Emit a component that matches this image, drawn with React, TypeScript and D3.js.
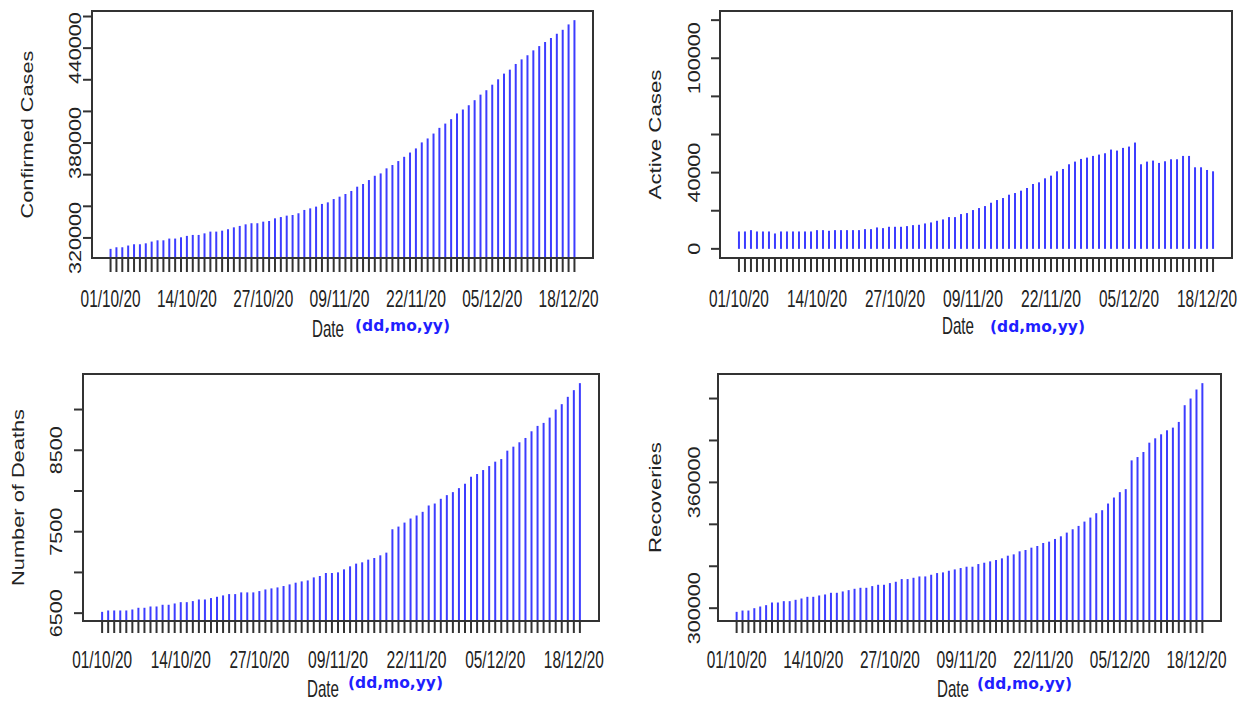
import React from 'react';
import * as d3 from 'd3';

// daily dates, 01/10/20 .. 19/12/20
const days = d3.timeDay.range(new Date(2020, 9, 1), new Date(2020, 11, 20));
const dateTickLabels = ['01/10/20', '14/10/20', '27/10/20', '09/11/20', '22/11/20', '05/12/20', '18/12/20'];

const confirmed = [
  313100, 314100, 314100, 315200, 316000, 316000, 316600, 317700, 318500, 318500,
  319600, 319600, 320400, 321300, 321900, 321900, 322900, 324000, 324000, 324600,
  325500, 326700, 327600, 328600, 329300, 329300, 330300, 330700, 332400, 333200,
  334100, 334500, 335600, 337700, 338700, 339800, 341500, 342500, 344600, 346100,
  347800, 349700, 352400, 354100, 356600, 359300, 360800, 364000, 366100, 368600,
  371300, 374000, 376600, 380400, 382900, 386000, 389600, 392300, 395100, 398700,
  401200, 403900, 407100, 410600, 413400, 416900, 420300, 423900, 426400, 430000,
  432900, 435500, 438600, 441300, 443900, 446400, 449100, 451600, 455000, 457700,
];

const active = [
  9120, 9120, 9820, 9120, 9120, 9120, 8070, 9120, 9120, 9120,
  9120, 9120, 9120, 9820, 9820, 9470, 9820, 9820, 9820, 9820,
  9820, 10350, 10350, 11230, 10870, 11580, 11580, 11580, 11930, 12450,
  12630, 13330, 13860, 14730, 15440, 16660, 16660, 18240, 18770, 20350,
  21400, 22450, 24200, 25610, 26660, 28410, 29290, 30520, 31920, 34030,
  34900, 37010, 38410, 40690, 41920, 44380, 45780, 47180, 47880, 48760,
  49460, 50160, 52090, 51570, 52970, 53670, 55780, 44380, 45780, 46310,
  45080, 45950, 47010, 47010, 48760, 48760, 42800, 42800, 41390, 40690,
];

const deaths = [
  6516, 6533, 6533, 6533, 6533, 6545, 6566, 6566, 6582, 6582,
  6603, 6603, 6619, 6635, 6635, 6648, 6668, 6668, 6685, 6701,
  6718, 6734, 6734, 6755, 6755, 6755, 6771, 6791, 6804, 6816,
  6833, 6853, 6874, 6890, 6902, 6939, 6956, 6993, 6993, 7001,
  7038, 7075, 7108, 7124, 7157, 7177, 7210, 7243, 7530, 7563,
  7612, 7662, 7699, 7744, 7822, 7846, 7904, 7949, 7986, 8035,
  8089, 8175, 8208, 8257, 8306, 8360, 8392, 8495, 8544, 8598,
  8651, 8733, 8799, 8836, 8901, 9000, 9066, 9156, 9238, 9324,
];

const recoveries = [
  298250, 298880, 298880, 300000, 300800, 301440, 302710, 302710, 303350, 303350,
  303990, 304630, 305420, 305420, 306060, 306540, 307340, 307340, 307980, 308610,
  309250, 309730, 309730, 310530, 311170, 311170, 311960, 312600, 313880, 313880,
  314510, 315150, 315150, 315950, 316750, 317070, 317860, 318500, 319140, 319780,
  319780, 321050, 321690, 322330, 322970, 323770, 325040, 325680, 327120, 327750,
  328870, 329670, 331100, 331740, 333020, 334290, 336050, 337640, 339240, 341310,
  343220, 345300, 346730, 349920, 352790, 355350, 356780, 370500, 372090, 374490,
  378950, 381030, 382940, 384850, 386130, 388840, 396820, 400010, 404310, 407340,
];

const confirmedTickLabels = [320000, 380000, 440000];
const activeTickLabels = [0, 40000, 100000];
const deathsTickLabels = [6500, 7500, 8500];
const recoveriesTickLabels = [300000, 360000];
const activeLimits: [number, number] = [0, 120000];

const FONT = '"Liberation Sans", Arial, sans-serif';
const BOLD_FONT = '"DejaVu Sans", Verdana, sans-serif';
const INK = '#222';
const BAR = '#3c3cff';
const AXIS = '#333';

// the source image is stretched, so every label is scaled along its reading direction
const measureCtx = typeof document !== 'undefined' ? document.createElement('canvas').getContext('2d') : null;
function measure(text: string, size: number, family: string, weight = 'normal') {
  if (!measureCtx) return text.length * size * 0.55;
  measureCtx.font = `${weight} ${size}px ${family}`;
  return measureCtx.measureText(text).width;
}

function Label({ text, x, y, len, size, rotate = 0, anchor = 'middle', family = FONT, weight = 'normal', fill = INK }: {
  text: string; x: number; y: number; len: number; size: number; rotate?: number;
  anchor?: string; family?: string; weight?: string; fill?: string;
}) {
  const sx = len / measure(text, size, family, weight);
  return (
    <text transform={`translate(${x},${y}) rotate(${rotate}) scale(${sx},1)`} textAnchor={anchor}
      fontFamily={family} fontWeight={weight} fontSize={size} fill={fill}>{text}</text>
  );
}

type Layout = {
  box: [number, number, number, number];
  yLabelX: number;
  titleX: number;
  titleLen: number;
  tickBottom: number;
  dateLabelY: number;
  dateX: number;
  dateY: number;
  unitX: number;
  unitY: number;
};

function Panel({ values, limits, tickCount, tickLabels, title, layout }: {
  values: number[];
  limits?: [number, number];
  tickCount: number;
  tickLabels: number[];
  title: string;
  layout: Layout;
}) {
  const [x0, y0, x1, y1] = layout.box;
  const n = values.length;
  const xPad = 0.04 * (n - 1);
  const x = d3.scaleLinear().domain([-xPad, n - 1 + xPad]).range([x0, x1]);

  const [lo, hi] = limits ?? (d3.extent(values) as [number, number]);
  const yPad = 0.04 * (hi - lo);
  const y = d3.scaleLinear().domain([lo - yPad, hi + yPad]).range([y1, y0]);
  const base = Math.min(y(0), y1);

  const parse = d3.timeParse('%d/%m/%y');
  const labelIdx = dateTickLabels.map((s) => {
    const t = +parse(s)!;
    return days.findIndex((d) => +d === t);
  });

  const yTicks = y.ticks(tickCount);

  return (
    <g>
      {values.map((v, i) => (
        <line key={'b' + i} x1={x(i)} x2={x(i)} y1={base} y2={y(v)} stroke={BAR} strokeWidth={2} />
      ))}
      {days.map((d, i) => (
        <line key={'t' + i} x1={x(i)} x2={x(i)} y1={y1} y2={layout.tickBottom} stroke={AXIS} strokeWidth={2} />
      ))}
      {yTicks.map((t) => (
        <line key={'y' + t} x1={x0 - 9} x2={x0} y1={y(t)} y2={y(t)} stroke={AXIS} strokeWidth={2} />
      ))}
      <rect x={x0} y={y0} width={x1 - x0} height={y1 - y0} fill="none" stroke={AXIS} strokeWidth={2} />

      {tickLabels.map((t) => (
        <Label key={'yl' + t} text={String(t)} x={layout.yLabelX} y={y(t)} rotate={-90}
          size={17} len={String(t).length * 12} />
      ))}

      {dateTickLabels.map((s, k) => (
        <Label key={'xl' + s} text={s} x={x(labelIdx[k])} y={layout.dateLabelY} size={23} len={60} />
      ))}

      <Label text={title} x={layout.titleX} y={(y0 + y1) / 2} rotate={-90} size={17} len={layout.titleLen} />

      <Label text="Date" x={layout.dateX} y={layout.dateY} anchor="start" size={23} len={32} />
      <Label text="(dd,mo,yy)" x={layout.unitX} y={layout.unitY} anchor="start" size={16} len={95}
        family={BOLD_FONT} weight="bold" fill="#1f1fff" />
    </g>
  );
}

export default function App() {
  return (
    <svg width={1247} height={705} style={{ position: 'absolute', left: 0, top: 0, background: '#fff' }}>
      <rect width={1247} height={705} fill="#fff" />
      <Panel values={confirmed} tickCount={8} tickLabels={confirmedTickLabels} title="Confirmed Cases"
        layout={{ box: [92, 11, 593, 258], yLabelX: 81, titleX: 33, titleLen: 168, tickBottom: 272, dateLabelY: 307,
          dateX: 312, dateY: 337, unitX: 355, unitY: 331 }} />
      <Panel values={active} limits={activeLimits} tickCount={7} tickLabels={activeTickLabels} title="Active Cases"
        layout={{ box: [720, 11, 1232, 258], yLabelX: 700, titleX: 661, titleLen: 130, tickBottom: 272, dateLabelY: 307,
          dateX: 942, dateY: 334, unitX: 990, unitY: 332 }} />
      <Panel values={deaths} tickCount={6} tickLabels={deathsTickLabels} title="Number of Deaths"
        layout={{ box: [83, 374, 599, 621], yLabelX: 62, titleX: 24, titleLen: 177, tickBottom: 633, dateLabelY: 668,
          dateX: 307, dateY: 697, unitX: 348, unitY: 688 }} />
      <Panel values={recoveries} tickCount={6} tickLabels={recoveriesTickLabels} title="Recoveries"
        layout={{ box: [718, 374, 1221, 621], yLabelX: 700, titleX: 661, titleLen: 111, tickBottom: 633, dateLabelY: 668,
          dateX: 937, dateY: 697, unitX: 977, unitY: 689 }} />
    </svg>
  );
}
